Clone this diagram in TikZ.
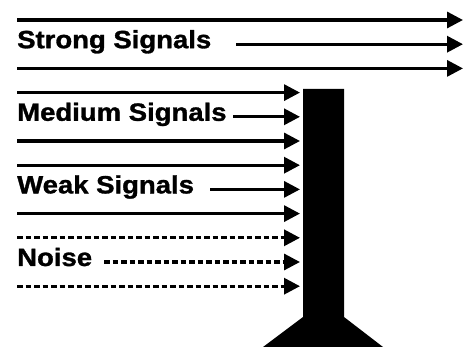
\documentclass[tikz,border=0pt]{standalone}
\usepackage{fontspec}
\setmainfont{Liberation Sans}[BoldFeatures={FakeBold=1.2}]
\usetikzlibrary{arrows.meta}
\tikzset{
  signal/.style={-{Triangle[length=16pt,width=16pt]}, line width=3.2pt},
  noisy/.style={signal, dash pattern=on 5.5pt off 3pt},
  sigtext/.style={anchor=base west, inner sep=0pt, xscale=1.1, font=\fontsize{25}{25}\selectfont\bfseries}
}

\begin{document}
\begin{tikzpicture}[x=1pt, y=-1pt]
  \useasboundingbox (0,0) rectangle (466,347);

  % receiver mast
  \fill (303,89) -- (344,89) -- (344,317) -- (383,347) -- (263,347) -- (303,317) -- cycle;

  % labels
  \node[sigtext] (strong) at (17,48.2) {Strong Signals};
  \node[sigtext] (medium) at (17,120.8) {Medium Signals};
  \node[sigtext] (weak) at (17,193.4) {Weak Signals};
  \node[sigtext] (noise) at (17,266) {Noise};

  % start and end points
  \coordinate (s1) at (17,20);     \coordinate (e1) at (463,20);
  \coordinate (s2) at (236,44.2);  \coordinate (e2) at (463,44.2);
  \coordinate (s3) at (17,68.4);   \coordinate (e3) at (463,68.4);
  \coordinate (s4) at (17,92.6);   \coordinate (e4) at (300,92.6);
  \coordinate (s5) at (233,116.8); \coordinate (e5) at (300,116.8);
  \coordinate (s6) at (17,141);    \coordinate (e6) at (300,141);
  \coordinate (s7) at (17,165.2);  \coordinate (e7) at (300,165.2);
  \coordinate (s8) at (210,189.4); \coordinate (e8) at (300,189.4);
  \coordinate (s9) at (17,213.6);  \coordinate (e9) at (300,213.6);
  \coordinate (s10) at (17,237.8); \coordinate (e10) at (300,237.8);
  \coordinate (s11) at (104,262);  \coordinate (e11) at (300,262);
  \coordinate (s12) at (17,286.2); \coordinate (e12) at (300,286.2);

  \foreach \i in {1,...,9}
    \draw[signal] (s\i) -- (e\i);
  \foreach \i in {10,11,12}
    \draw[noisy] (s\i) -- (e\i);

\end{tikzpicture}
\end{document}
